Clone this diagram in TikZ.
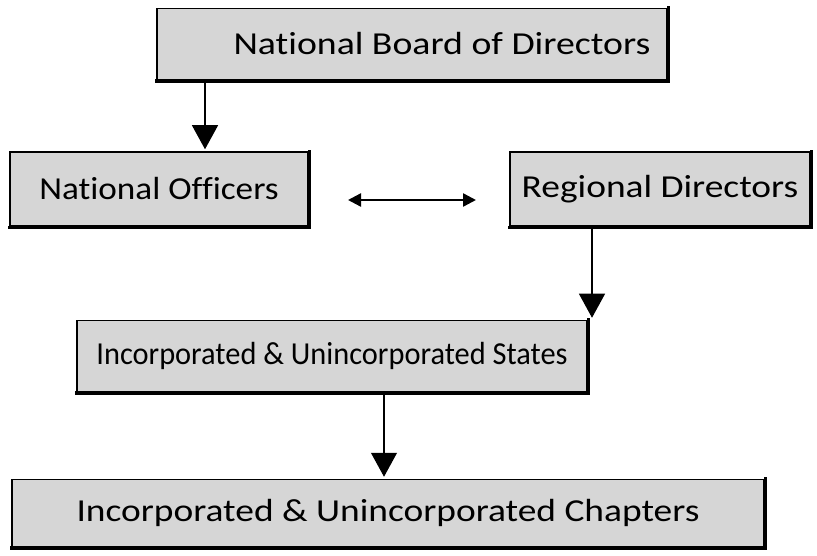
\documentclass[tikz,border=0pt]{standalone}
\usepackage{fontspec}
\usepackage{graphicx}
\setmainfont[Ligatures=NoCommon]{Carlito}
\usetikzlibrary{arrows.meta}
\tikzset{
  orgbox/.style={draw=black, line width=1.5pt, fill=black!16, inner sep=0pt,
    font=\fontsize{32}{38}\selectfont, text=black},
  heavyedge/.style={line width=3.2pt, line cap=rect},
  varrow/.style={line width=1.1pt, -{Triangle[width=26pt,length=24pt]}, shorten >=2pt},
  harrow/.style={line width=2.4pt, {Triangle[width=13pt,length=13pt]}-{Triangle[width=13pt,length=13pt]}}
}
\newcommand{\heavy}[1]{\draw[heavyedge] ([xshift=0.8pt]#1.north east) -- ([xshift=0.8pt,yshift=-0.8pt]#1.south east) -- ([yshift=-0.8pt]#1.south west);}
\newcommand{\wide}[2]{\scalebox{#1}[1]{#2}}
\begin{document}
\begin{tikzpicture}[x=1pt,y=-1pt]
\useasboundingbox (0,0) rectangle (817,556);
\node[orgbox, minimum width=510pt, minimum height=71pt] (nbd) at (412,44) {\hspace*{60pt}\wide{1.18}{National Board of Directors}};
\node[orgbox, minimum width=298pt, minimum height=74pt] (no) at (159,189) {\wide{1.10}{National Officers}};
\node[orgbox, minimum width=300pt, minimum height=74pt] (rd) at (660,189) {\wide{1.17}{Regional Directors}};
\node[orgbox, minimum width=510pt, minimum height=71pt] (st) at (332,356) {\wide{0.95}{Incorporated \& Unincorporated States}};
\node[orgbox, minimum width=752pt, minimum height=67pt] (ch) at (388,513) {\wide{1.17}{Incorporated \& Unincorporated Chapters}};
\heavy{nbd}\heavy{no}\heavy{rd}\heavy{st}\heavy{ch}
\coordinate (a1) at (205,0);
\coordinate (a2) at (592,0);
\coordinate (a3) at (384,0);
\coordinate (hl) at (348,200);
\coordinate (hr) at (476,200);
\draw[varrow] (nbd.south -| a1) -- (no.north -| a1);
\draw[varrow] (rd.south -| a2) -- (st.north -| a2);
\draw[varrow] (st.south -| a3) -- (ch.north -| a3);
\draw[harrow] (hl) -- (hr);
\end{tikzpicture}
\end{document}
